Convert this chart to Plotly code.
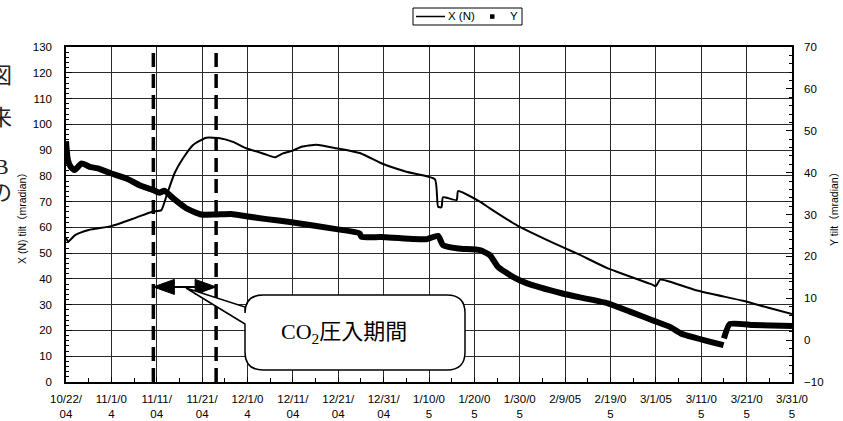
import plotly.graph_objects as go

# ---------------- data ----------------
x_dates = ['2004-10-22 00:00', '2004-10-22 12:00', '2004-10-24', '2004-10-27', '2004-11-01',
           '2004-11-06', '2004-11-10', '2004-11-12', '2004-11-13 02:00', '2004-11-14 22:00',
           '2004-11-16 19:00', '2004-11-19', '2004-11-21 22:00', '2004-11-24 22:00', '2004-11-27 19:00',
           '2004-11-30 17:00', '2004-12-04 17:00', '2004-12-07', '2004-12-08 19:00', '2004-12-11',
           '2004-12-12 22:00', '2004-12-16 05:00', '2004-12-20 14:00', '2004-12-26', '2004-12-30 12:00',
           '2005-01-05', '2005-01-11 07:00', '2005-01-12', '2005-01-12 18:00', '2005-01-13 02:00',
           '2005-01-16 02:00', '2005-01-16 10:00', '2005-01-21 05:00', '2005-01-23 10:00', '2005-01-29 07:00',
           '2005-02-08 05:00', '2005-02-12 07:00', '2005-02-18 10:00', '2005-02-28 02:00', '2005-03-01',
           '2005-03-01 22:00', '2005-03-03 10:00', '2005-03-10 02:00', '2005-03-20 05:00', '2005-03-25 10:00',
           '2005-03-31']
x_vals = [56.0, 54.5, 57.0, 59.0, 60.5,
          63.5, 66.1, 66.7, 71.9, 81.0,
          86.8, 92.0, 94.8, 94.6, 93.2,
          90.7, 88.5, 87.2, 88.7, 89.8,
          91.3, 92.1, 90.7, 88.7, 84.9,
          81.6, 78.7, 68.0, 67.8, 71.7,
          70.6, 74.1, 70.0, 67.4, 60.9,
          52.5, 49.3, 44.1, 37.9, 37.2,
          39.7, 39.3, 35.5, 31.5, 29.0,
          26.4]

y_dates = ['2004-10-22 00:00', '2004-10-22 10:00', '2004-10-23 02:00', '2004-10-23 22:00', '2004-10-25 10:00',
           '2004-10-27 05:00', '2004-10-29', '2004-11-01', '2004-11-04 08:00', '2004-11-07 05:00',
           '2004-11-10 02:00', '2004-11-11 14:00', '2004-11-12 17:00', '2004-11-14 14:00', '2004-11-17 12:00',
           '2004-11-20 19:00', '2004-11-24 02:00', '2004-11-27 10:00', '2004-11-30 17:00', '2004-12-05 05:00',
           '2004-12-10 08:00', '2004-12-20 14:00', '2004-12-25 17:00', '2004-12-26 02:00', '2004-12-30 12:00',
           '2005-01-09 10:00', '2005-01-12', '2005-01-13 02:00', '2005-01-16 10:00', '2005-01-21 05:00',
           '2005-01-23 10:00', '2005-01-25 05:00', '2005-01-28 12:00', '2005-01-31 12:00', '2005-02-08 05:00',
           '2005-02-12 07:00', '2005-02-18 10:00', '2005-02-23 07:00', '2005-02-28 02:00', '2005-03-04 05:00',
           '2005-03-06 12:00', '2005-03-15 22:00', None, '2005-03-16 00:00', '2005-03-17 07:00',
           '2005-03-22 12:00', '2005-03-31']
y_vals = [47.5, 43.0, 41.3, 40.6, 42.2,
          41.4, 41.0, 39.8, 38.6, 37.0,
          35.9, 35.2, 35.7, 33.9, 31.5,
          30.0, 30.0, 30.1, 29.6, 28.9,
          28.2, 26.5, 25.5, 24.7, 24.6,
          24.1, 24.9, 22.7, 21.9, 21.5,
          20.3, 17.5, 15.1, 13.6, 11.2,
          10.2, 8.8, 6.8, 4.8, 3.1,
          1.6, -1.2, None, 0.4, 3.85,
          3.6, 3.4]

tick_vals = ['2004-10-22', '2004-11-01', '2004-11-11', '2004-11-21', '2004-12-01', '2004-12-11',
             '2004-12-21', '2004-12-31', '2005-01-10', '2005-01-20', '2005-01-30', '2005-02-09',
             '2005-02-19', '2005-03-01', '2005-03-11', '2005-03-21', '2005-03-31']
tick_text = ['10/22/<br>04', '11/1/0<br>4', '11/11/<br>04', '11/21/<br>04', '12/1/0<br>4', '12/11/<br>04',
             '12/21/<br>04', '12/31/<br>04', '1/10/0<br>5', '1/20/0<br>5', '1/30/0<br>5', '2/9/05',
             '2/19/0<br>5', '3/1/05', '3/11/0<br>5', '3/21/0<br>5', '3/31/0<br>5']

injection_period = ['2004-11-10 06:00', '2004-11-24 02:00']
arrow_level = 36.9
callout_text = 'CO<sub>2</sub>圧入期間'
legend_names = ['X (N)', 'Y']

# ---------------- layout geometry (pixels) ----------------
W, H = 843, 421
L, R, T, B = 66, 792, 47, 382
PW, PH = R - L, B - T


def px(x):
    return (x - L) / PW


def py(y):
    return (B - y) / PH


TICKFONT = dict(family='Liberation Sans, Arial, sans-serif', size=11.5, color='black')
GRID = '#2a2a2a'

fig = go.Figure()
fig.add_trace(go.Scatter(x=x_dates, y=x_vals, mode='lines', name=legend_names[0],
                         line=dict(color='black', width=2, shape='spline', smoothing=0.5), yaxis='y'))
fig.add_trace(go.Scatter(x=y_dates, y=y_vals, mode='lines', name=legend_names[1],
                         line=dict(color='black', width=6, shape='spline', smoothing=0.5),
                         connectgaps=False, yaxis='y2'))

shapes = []
for d in injection_period:
    shapes.append(dict(type='line', xref='x', yref='paper', x0=d, x1=d, y0=0, y1=1,
                       line=dict(color='black', width=3.5, dash='14px,7px')))
shapes.append(dict(type='line', xref='x', yref='y', x0=injection_period[0], x1=injection_period[1],
                   y0=arrow_level, y1=arrow_level, line=dict(color='black', width=2)))
shapes.append(dict(type='path', xref='x', yref='y', xsizemode='pixel', ysizemode='pixel',
                   xanchor=injection_period[0], yanchor=arrow_level,
                   path='M0,0 L21,7.5 L21,-7.5 Z', fillcolor='black', line=dict(color='black', width=1)))
shapes.append(dict(type='path', xref='x', yref='y', xsizemode='pixel', ysizemode='pixel',
                   xanchor=injection_period[1], yanchor=arrow_level,
                   path='M0,0 L-21,7.5 L-21,-7.5 Z', fillcolor='black', line=dict(color='black', width=1)))

# callout box with pointer (paper coords)
bx0, bx1, by0, by1, r = 245, 465, 295, 370, 18
tipx, tipy = 186, 288


def P(x, y):
    return f'{px(x):.5f},{py(y):.5f}'


path = (f'M{P(bx0 + r, by0)} L{P(bx1 - r, by0)} Q{P(bx1, by0)} {P(bx1, by0 + r)} '
        f'L{P(bx1, by1 - r)} Q{P(bx1, by1)} {P(bx1 - r, by1)} '
        f'L{P(bx0 + r, by1)} Q{P(bx0, by1)} {P(bx0, by1 - r)} '
        f'L{P(bx0, 324)} L{P(tipx, tipy)} L{P(bx0, 307)} '
        f'L{P(bx0, by0 + r)} Q{P(bx0, by0)} {P(bx0 + r, by0)} Z')
shapes.append(dict(type='path', xref='paper', yref='paper', path=path,
                   fillcolor='white', line=dict(color='black', width=1.5)))

# manual legend
shapes.append(dict(type='rect', xref='paper', yref='paper', x0=px(413), x1=px(522), y0=py(25), y1=py(8),
                   line=dict(color='black', width=1), fillcolor='white'))
shapes.append(dict(type='line', xref='paper', yref='paper', x0=px(416), x1=px(445), y0=py(16.5), y1=py(16.5),
                   line=dict(color='black', width=1.5)))
shapes.append(dict(type='rect', xref='paper', yref='paper', x0=px(490), x1=px(494.5), y0=py(18.8), y1=py(14.3),
                   line=dict(color='black', width=0), fillcolor='black'))

annotations = [
    dict(text=callout_text, xref='paper', yref='paper', x=px(344), y=py(333), showarrow=False,
         font=dict(family='Liberation Serif, Noto Sans CJK JP, serif', size=22, color='black'),
         xanchor='center', yanchor='middle'),
    dict(text=legend_names[0], xref='paper', yref='paper', x=px(446), y=py(16.5), showarrow=False,
         font=dict(family='Liberation Sans, Arial, sans-serif', size=11.5, color='black'),
         xanchor='left', yanchor='middle'),
    dict(text=legend_names[1], xref='paper', yref='paper', x=px(508), y=py(16.5), showarrow=False,
         font=dict(family='Liberation Sans, Arial, sans-serif', size=11.5, color='black'),
         xanchor='left', yanchor='middle'),
    dict(text='X (N) tilt（mradian）', xref='paper', yref='paper', x=px(22), y=py(216), showarrow=False,
         textangle=-90, font=dict(family='Liberation Sans, Noto Sans CJK JP, sans-serif', size=10.5, color='black'),
         xanchor='center', yanchor='middle'),
    dict(text='Y tilt（mradian）', xref='paper', yref='paper', x=px(834), y=py(207), showarrow=False,
         textangle=-90, font=dict(family='Liberation Sans, Noto Sans CJK JP, sans-serif', size=10.5, color='black'),
         xanchor='center', yanchor='middle'),
]
# clipped fragments of page text at the left edge
for ch, yy in [('図', 75), ('来', 118), ('B', 166), ('の', 192)]:
    annotations.append(dict(text=ch, xref='paper', yref='paper', x=px(1), y=py(yy), showarrow=False,
                            font=dict(family='Liberation Serif, Noto Sans CJK JP, serif', size=22, color='#222'),
                            xanchor='center', yanchor='middle'))

fig.update_layout(
    width=W, height=H,
    margin=dict(l=L, r=W - R, t=T, b=H - B, pad=0, autoexpand=False),
    plot_bgcolor='white', paper_bgcolor='white',
    showlegend=False,
    shapes=shapes, annotations=annotations,
    xaxis=dict(type='date', range=['2004-10-22', '2005-03-31'], tickvals=tick_vals, ticktext=tick_text,
               tickangle=0, tickfont=TICKFONT, showgrid=True, gridcolor=GRID, gridwidth=1,
               showline=True, linecolor='black', linewidth=1.5, mirror=True, automargin=False,
               ticks='inside', ticklen=5, tickcolor='black', ticklabelstandoff=5,
               minor=dict(dtick=5 * 86400000, tick0='2004-10-22', ticks='inside', ticklen=4,
                          tickcolor='black', showgrid=False),
               zeroline=False, fixedrange=True),
    yaxis=dict(range=[0, 130], tick0=0, dtick=10, tickfont=TICKFONT, showgrid=True, gridcolor=GRID,
               gridwidth=1, showline=True, linecolor='black', linewidth=1.5, automargin=False,
               ticks='inside', ticklen=6, tickcolor='black', ticklabelstandoff=10,
               minor=dict(dtick=2, ticks='inside', ticklen=3, tickcolor='black', showgrid=False),
               zeroline=False),
    yaxis2=dict(range=[-10, 70], tick0=0, dtick=10, overlaying='y', side='right', tickfont=TICKFONT,
                showgrid=False, showline=True, linecolor='black', linewidth=1.5, automargin=False,
                ticks='inside', ticklen=6, tickcolor='black', ticklabelstandoff=8,
                minor=dict(dtick=2, ticks='inside', ticklen=3, tickcolor='black', showgrid=False),
                zeroline=False),
)

fig.write_html('out.html', config={'displayModeBar': False},
               post_script="document.body.style.margin='0';")
